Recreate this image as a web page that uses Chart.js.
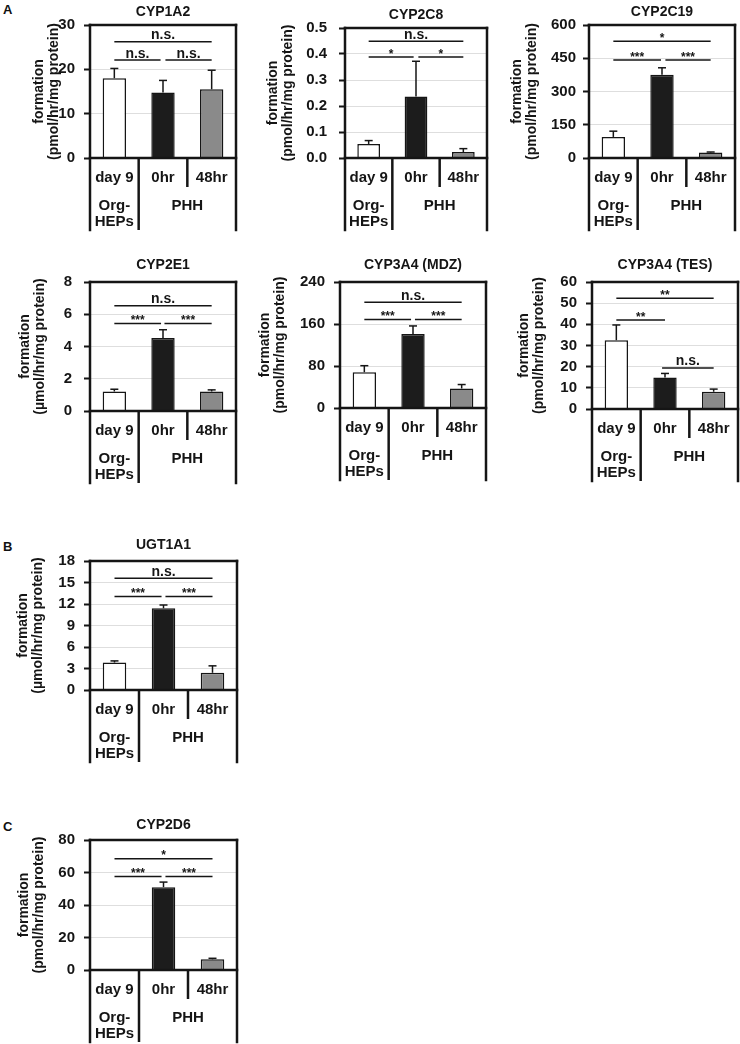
<!DOCTYPE html>
<html>
<head>
<meta charset="utf-8">
<script src="https://cdn.jsdelivr.net/npm/chart.js@4.4.0/dist/chart.umd.min.js"></script>
<style>
  body { margin: 0; background: #fff; width: 740px; height: 1044px; position: relative; overflow: hidden; }
  canvas { position: absolute; }
  .tag { position: absolute; font: bold 13px "Liberation Sans", Arial, sans-serif; color: #111; }
</style>
</head>
<body>
<div class="tag" style="left:3px;top:2px">A</div>
<div class="tag" style="left:3px;top:539px">B</div>
<div class="tag" style="left:3px;top:819px">C</div>
<script>
const FONT = '"Liberation Sans", Arial, sans-serif';
const ink = "#151515";

// data
const categories = ["day 9", "0hr", "48hr"];
const titles = ["CYP1A2", "CYP2C8", "CYP2C19", "CYP2E1", "CYP3A4 (MDZ)", "CYP3A4 (TES)", "UGT1A1", "CYP2D6"];
const units = ["(pmol/hr/mg protein)", "(pmol/hr/mg protein)", "(pmol/hr/mg protein)", "(\u00b5mol/hr/mg protein)",
  "(pmol/hr/mg protein)", "(pmol/hr/mg protein)", "(\u00b5mol/hr/mg protein)", "(pmol/hr/mg protein)"];
const yMax = [30, 0.5, 600, 8, 240, 60, 18, 80];
const yStep = [10, 0.1, 150, 2, 80, 10, 3, 20];
const yDigits = [0, 1, 0, 0, 0, 0, 0, 0];
const means = [
  [18.0, 14.8, 15.5],
  [0.054, 0.237, 0.023],
  [95, 376, 24.5],
  [1.21, 4.52, 1.21],
  [68.2, 140.8, 37.2],
  [32.5, 14.9, 8.15],
  [3.83, 11.4, 2.4],
  [0, 51, 6.6]
];
const upper = [
  [20.2, 17.5, 19.8],
  [0.067, 0.372, 0.036],
  [121, 407, 27],
  [1.35, 5.04, 1.31],
  [80.6, 156.3, 44.7],
  [39.7, 16.8, 9.4],
  [4.06, 11.86, 3.37],
  [0, 54.1, 7.2]
];
// [from category, to category, height, label]
const sigs = [
  [[0, 2, 26.2, "n.s."], [0, 0.95, 22.1, "n.s."], [1.05, 2, 22.1, "n.s."]],
  [[0, 2, 0.449, "n.s."], [0, 0.95, 0.388, "*"], [1.05, 2, 0.388, "*"]],
  [[0, 2, 527, "*"], [0, 0.98, 442, "***"], [1.07, 2, 442, "***"]],
  [[0, 2, 6.53, "n.s."], [0, 0.96, 5.42, "***"], [1.03, 2, 5.42, "***"]],
  [[0, 2, 201.6, "n.s."], [0, 0.96, 168.7, "***"], [1.04, 2, 168.7, "***"]],
  [[0, 2, 52.3, "**"], [0, 1, 42, "**"], [0.94, 2, 19.4, "n.s."]],
  [[0, 2, 15.6, "n.s."], [0, 0.96, 13.06, "***"], [1.04, 2, 13.06, "***"]],
  [[0, 2, 68.4, "*"], [0, 0.96, 57.6, "***"], [1.04, 2, 57.6, "***"]]
];
const barColors = ["#ffffff", "#1c1c1c", "#8a8a8a"];

// layout: plot area [left, top, right, bottom] in page pixels
const plotBox = [
  [90, 25, 236, 158], [345, 28, 487, 158], [589, 25, 735, 158],
  [90, 282, 236, 411], [340, 282, 486, 408], [592, 282, 738, 409],
  [90, 561, 237, 690], [90, 840, 237, 970]
];
const titleOff = [12.5, 12.5, 12.5, 17, 17, 17, 16, 15];
const labelOff = [51, 72, 72, 65, 75, 68, 67, 66];
const tickPad = [9, 12, 7, 12, 9, 9, 9, 9];
const TOP = 24, XH = 75, TABLE = 72;

function seg(ctx, x1, y1, x2, y2) {
  ctx.beginPath(); ctx.moveTo(x1, y1); ctx.lineTo(x2, y2); ctx.stroke();
}

const decor = {
  id: "decor",
  afterDatasetsDraw(chart) {
    const i = chart.options.plugins.decor.index;
    const { ctx, scales: { x, y } } = chart;
    ctx.save();
    ctx.strokeStyle = ink;
    ctx.lineWidth = 1.5;
    means[i].forEach((m, k) => {
      const u = upper[i][k];
      if (u <= m) return;
      const px = x.getPixelForValue(k);
      const y0 = y.getPixelForValue(m), y1 = y.getPixelForValue(u);
      seg(ctx, px, y0, px, y1);
      seg(ctx, px - 4, y1, px + 4, y1);
    });
    ctx.fillStyle = ink;
    ctx.textAlign = "center";
    ctx.textBaseline = "alphabetic";
    sigs[i].forEach(([a, b, v, t]) => {
      const x1 = x.getPixelForValue(a), x2 = x.getPixelForValue(b), py = y.getPixelForValue(v);
      seg(ctx, x1, py, x2, py);
      if (t === "n.s.") {
        ctx.font = "bold 14px " + FONT;
        ctx.fillText(t, (x1 + x2) / 2, py - 2.5);
      } else {
        ctx.font = "bold 12px " + FONT;
        ctx.fillText(t, (x1 + x2) / 2, py + 0.5);
      }
    });
    ctx.restore();
  },
  afterDraw(chart) {
    const i = chart.options.plugins.decor.index;
    const { ctx, chartArea: a, scales: { x } } = chart;
    ctx.save();
    ctx.strokeStyle = ink;
    ctx.lineWidth = 2.5;
    ctx.lineCap = "square";
    seg(ctx, a.left, a.top, a.right, a.top);
    seg(ctx, a.left, a.bottom, a.right, a.bottom);
    seg(ctx, a.left, a.top, a.left, a.bottom + TABLE);
    seg(ctx, a.right, a.top, a.right, a.bottom + TABLE);
    ctx.lineCap = "butt";
    seg(ctx, x.getPixelForValue(0.5), a.bottom, x.getPixelForValue(0.5), a.bottom + TABLE);
    seg(ctx, x.getPixelForValue(1.5), a.bottom, x.getPixelForValue(1.5), a.bottom + 29);
    ctx.fillStyle = ink;
    ctx.textAlign = "center";
    ctx.textBaseline = "middle";
    ctx.font = "bold 15px " + FONT;
    ctx.fillText("Org-", x.getPixelForValue(0), a.bottom + 48);
    ctx.fillText("HEPs", x.getPixelForValue(0), a.bottom + 64);
    ctx.fillText("PHH", x.getPixelForValue(1.5), a.bottom + 48);
    ctx.font = "bold 14px " + FONT;
    ctx.fillText(titles[i], (a.left + a.right) / 2, a.top - titleOff[i]);
    ctx.restore();
  }
};

titles.forEach((t, i) => {
  const [L, T, R, B] = plotBox[i];
  const w = R - L + 90 + 3, h = TOP + (B - T) + XH;
  const cv = document.createElement("canvas");
  cv.width = w; cv.height = h;
  cv.style.left = (L - 90) + "px";
  cv.style.top = (T - TOP) + "px";
  cv.style.width = w + "px";
  cv.style.height = h + "px";
  document.body.appendChild(cv);

  new Chart(cv, {
    type: "bar",
    data: {
      labels: categories,
      datasets: [{
        data: means[i],
        backgroundColor: barColors,
        borderColor: ink,
        borderWidth: 1.5,
        barPercentage: 0.48,
        categoryPercentage: 1
      }]
    },
    options: {
      responsive: false,
      animation: false,
      devicePixelRatio: 1,
      layout: { padding: { top: TOP, right: 3, left: 0, bottom: 0 } },
      plugins: { legend: { display: false }, tooltip: { enabled: false }, decor: { index: i } },
      scales: {
        x: {
          grid: { display: false },
          border: { display: false },
          ticks: { color: ink, font: { family: FONT, size: 15, weight: "bold" }, padding: 3, maxRotation: 0, autoSkip: false },
          afterFit: s => { s.height = XH; }
        },
        y: {
          min: 0,
          max: yMax[i],
          border: { display: false },
          grid: { color: "#dedede", lineWidth: 1, tickColor: ink, tickLength: 6, tickWidth: 2 },
          ticks: {
            stepSize: yStep[i],
            color: ink,
            padding: tickPad[i],
            font: { family: FONT, size: 15, weight: "bold" },
            callback: v => Number(v).toFixed(yDigits[i])
          },
          title: {
            display: true,
            text: ["formation", units[i]],
            color: ink,
            font: { family: FONT, size: 14, weight: "bold", lineHeight: 1.1 },
            padding: { top: 90 - labelOff[i] - 7.7, bottom: 0 }
          },
          afterFit: s => { s.width = 90; }
        }
      }
    },
    plugins: [decor]
  });
});
</script>
</body>
</html>
